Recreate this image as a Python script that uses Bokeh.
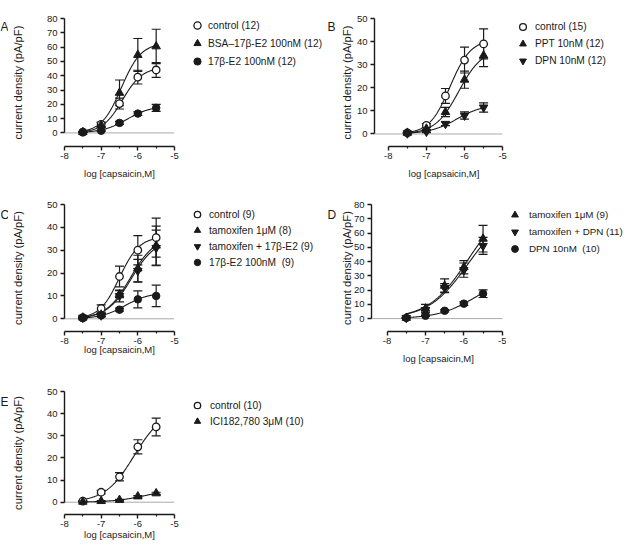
import numpy as np
from bokeh.plotting import figure
from bokeh.models import Range1d, FixedTicker, Legend, LegendItem, Spacer
from bokeh.core.properties import value
from bokeh.layouts import column, row
from bokeh.embed import file_html
from bokeh.resources import INLINE

FONT = "Liberation Sans"
INK = "#1a1a1a"

# ---------------- data ----------------
LOG_CAP = [-7.5, -7.0, -6.5, -6.0, -5.5]
X_TICKS = [-8, -7, -6, -5]
X_TICK_LABELS = ["-8", "-7", "-6", "-5"]
X_MINOR = [-7.5, -6.5, -5.5]
X_TITLE = "log [capsaicin,M]"
Y_TITLE = "current density (pA/pF)"

# Panel A
A_Y_TICKS = [0, 10, 20, 30, 40, 50, 60, 70, 80]
A_labels = ["control (12)", "BSA\u201317\u03b2-E2 100nM (12)", "17\u03b2-E2 100nM (12)"]
A_control_mean = [0.5, 6.0, 20.5, 39.0, 44.0]
A_control_sem = [0.3, 1.6, 3.8, 4.8, 5.2]
A_bsa_mean = [0.5, 5.5, 28.0, 54.5, 60.5]
A_bsa_sem = [0.3, 1.5, 9.0, 11.5, 12.0]
A_e2_mean = [0.5, 1.5, 7.0, 13.5, 17.5]
A_e2_sem = [0.2, 0.5, 1.0, 1.2, 2.5]
A_fit_top = [46.0, 63.0, 19.0]
A_fit_logec50 = [-6.42, -6.45, -6.30]
A_fit_hill = [1.6, 1.6, 1.3]

# Panel B
B_Y_TICKS = [0, 10, 20, 30, 40, 50]
B_labels = ["control (15)", "PPT 10nM (12)", "DPN 10nM (12)"]
B_control_mean = [0.5, 3.7, 16.5, 32.0, 39.0]
B_control_sem = [0.3, 0.8, 3.2, 5.6, 6.5]
B_ppt_mean = [0.5, 2.3, 9.5, 23.5, 34.0]
B_ppt_sem = [0.2, 0.6, 2.0, 3.7, 4.8]
B_dpn_mean = [0.3, 1.0, 4.4, 8.0, 11.5]
B_dpn_sem = [0.2, 0.4, 0.8, 1.6, 2.0]
B_fit_top = [41.0, 37.0, 13.0]
B_fit_logec50 = [-6.38, -6.15, -6.20]
B_fit_hill = [1.6, 1.4, 1.2]

# Panel C
C_Y_TICKS = [0, 10, 20, 30, 40, 50]
C_labels = ["control (9)", "tamoxifen 1\u03bcM (8)", "tamoxifen + 17\u03b2-E2 (9)", "17\u03b2-E2 100nM  (9)"]
C_control_mean = [0.5, 4.5, 18.5, 30.0, 35.5]
C_control_sem = [0.3, 1.6, 4.5, 6.4, 8.5]
C_tam_mean = [0.5, 1.8, 10.8, 22.0, 32.0]
C_tam_sem = [0.2, 0.6, 1.5, 5.8, 8.5]
C_tame2_mean = [0.5, 1.5, 10.0, 21.0, 31.0]
C_tame2_sem = [0.2, 0.5, 2.6, 5.0, 7.8]
C_e2_mean = [0.3, 1.5, 4.0, 8.5, 10.0]
C_e2_sem = [0.2, 0.4, 0.7, 3.7, 4.7]
C_fit_top = [36.0, 36.0, 35.0, 11.5]
C_fit_logec50 = [-6.50, -6.20, -6.18, -6.35]
C_fit_hill = [1.6, 1.3, 1.3, 1.3]

# Panel D
D_Y_TICKS = [0, 10, 20, 30, 40, 50, 60, 70, 80]
D_labels = ["tamoxifen 1\u03bcM (9)", "tamoxifen + DPN (11)", "DPN 10nM  (10)"]
D_tam_mean = [0.5, 7.0, 23.0, 36.0, 56.0]
D_tam_sem = [0.3, 3.0, 4.8, 4.6, 9.3]
D_tamdpn_mean = [0.5, 6.0, 21.5, 34.0, 51.0]
D_tamdpn_sem = [0.3, 1.5, 3.0, 5.0, 6.0]
D_dpn_mean = [0.5, 2.0, 5.5, 10.5, 17.5]
D_dpn_sem = [0.2, 0.5, 0.8, 1.2, 2.7]
D_fit_top = [82.0, 76.0, 30.0]
D_fit_logec50 = [-5.90, -5.90, -5.70]
D_fit_hill = [0.85, 0.85, 0.9]

# Panel E
E_Y_TICKS = [0, 10, 20, 30, 40, 50]
E_labels = ["control (10)", "ICI182,780 3\u03bcM (10)"]
E_control_mean = [0.5, 4.5, 11.5, 25.0, 34.0]
E_control_sem = [0.2, 0.8, 1.9, 3.2, 4.0]
E_ici_mean = [0.2, 0.5, 1.0, 2.6, 4.0]
E_ici_sem = [0.1, 0.2, 0.3, 0.4, 0.5]
E_fit_top = [42.0, 6.0]
E_fit_logec50 = [-6.10, -5.80]
E_fit_hill = [1.1, 1.0]

# ---------------- styling ----------------
MARKERS = {
    "open": dict(marker="circle", size=7.5, fill_color="white", line_color=INK, line_width=1.3),
    "dot": dict(marker="circle", size=7.5, fill_color=INK, line_color=INK, line_width=1),
    "tri": dict(marker="triangle", size=8.5, fill_color=INK, line_color=INK, line_width=1),
    "itri": dict(marker="inverted_triangle", size=8.5, fill_color=INK, line_color=INK, line_width=1),
}


def hill(top, logec50, n, xs):
    return top / (1.0 + 10.0 ** ((logec50 - xs) * n))


def blank_fig(w, h):
    f = figure(width=w, height=h, x_range=Range1d(0, w), y_range=Range1d(0, h),
               min_border_left=0, min_border_right=0, min_border_top=0, min_border_bottom=0,
               x_axis_location=None, y_axis_location=None, output_backend="svg",
               toolbar_location=None, tools="")
    f.outline_line_color = None
    f.xgrid.visible = False
    f.ygrid.visible = False
    f.background_fill_color = "white"
    f.border_fill_color = "white"
    return f


def letter_fig(letter, ox, oy, w, h, lx, ly):
    f = blank_fig(w, h)
    f.text(x=[lx - ox], y=[h - (ly - oy)], text=[letter], text_baseline="top",
           text_align="left", text_font=value(FONT), text_font_size="12px", text_color=INK)
    return f


def legend_box(series, ox, oy, w, h, leg):
    """Legend whose top-left corner sits at (ox, oy + spacer)."""
    row1_y, rh, standoff, fsize = leg
    gh = int(round(rh))
    top_off = int(round(row1_y - gh / 2.0 - oy))
    f = blank_fig(w, h - top_off)
    items = []
    for s in series:
        # one point of the series, outside this legend panel's view: gives the legend its glyph
        r = f.scatter(x=[s["x0"]], y=[s["mean"][0]], **MARKERS[s["kind"]])
        items.append(LegendItem(label=s["label"], renderers=[r]))
    legend = Legend(items=items, location="top_left", glyph_width=gh, glyph_height=gh,
                    label_height=gh, spacing=0, padding=0, margin=0, label_standoff=standoff,
                    border_line_color=None, background_fill_alpha=0,
                    label_text_font=FONT, label_text_font_size=fsize,
                    label_text_color=INK, label_text_baseline="middle")
    f.add_layout(legend)
    return column(Spacer(width=w, height=top_off), f)


def plot_fig(box, anch, frame_right, y_ticks, series, ylab_off, xlab_off):
    ox, oy, w, h = box
    yax, xm8, xm5, yzero, ytop, xax = anch
    y_top_val = y_ticks[-1]
    left = int(round(yax - ox))
    top = int(round(ytop - oy))
    bottom = int(round(oy + h - xax))
    fw = int(round(frame_right - yax))
    right = w - left - fw
    fh = h - top - bottom
    kx = (xm5 - xm8) / 3.0
    x0 = -8 - (xm8 - yax) / kx
    x1 = x0 + fw / kx
    ky = (yzero - ytop) / y_top_val
    y0 = y_top_val - fh / ky

    p = figure(width=w, height=h, x_range=Range1d(x0, x1), y_range=Range1d(y0, y_top_val),
               min_border_left=left, min_border_right=right, min_border_top=top,
               min_border_bottom=bottom, output_backend="svg", toolbar_location=None,
               tools="")
    p.outline_line_color = None
    p.xgrid.visible = False
    p.ygrid.visible = False
    p.background_fill_color = "white"
    p.border_fill_color = "white"

    xa = p.xaxis[0]
    ya = p.yaxis[0]
    xa.bounds = (X_TICKS[0], X_TICKS[-1])
    xa.ticker = FixedTicker(ticks=X_TICKS, minor_ticks=X_MINOR)
    xa.major_label_overrides = {t: s for t, s in zip(X_TICKS, X_TICK_LABELS)}
    ya.bounds = (y_ticks[0], y_ticks[-1])
    ya.ticker = FixedTicker(ticks=y_ticks, minor_ticks=[])
    for ax in (xa, ya):
        ax.axis_line_width = 1.4
        ax.axis_line_color = INK
        ax.major_tick_line_width = 1.4
        ax.major_tick_line_color = INK
        ax.major_tick_out = 4
        ax.major_tick_in = 0
        ax.minor_tick_out = 2
        ax.minor_tick_in = 0
        ax.minor_tick_line_width = 1.2
        ax.minor_tick_line_color = INK
        ax.major_label_text_font = FONT
        ax.major_label_text_font_size = "9.5px"
        ax.major_label_text_color = INK
        ax.axis_label_text_font = FONT
        ax.axis_label_text_font_style = "normal"
        ax.axis_label_text_color = INK
    ya.minor_tick_line_color = None
    xa.major_label_standoff = 2
    ya.major_label_standoff = 3
    xa.axis_label = X_TITLE
    ya.axis_label = Y_TITLE
    xa.axis_label_text_font_size = "9.5px"
    ya.axis_label_text_font_size = "11.2px"
    xa.axis_label_standoff = xlab_off
    ya.axis_label_standoff = ylab_off

    # dotted zero line, from the y axis to the end of the x axis
    p.segment(x0=[x0], y0=[0], x1=[X_TICKS[-1]], y1=[0], line_color="#555555",
              line_width=1, line_dash="1 1")

    xs_fit = np.linspace(LOG_CAP[0], LOG_CAP[-1], 160)
    for s in series:
        mean = np.array(s["mean"])
        sem = np.array(s["sem"])
        p.line(xs_fit, hill(s["top"], s["ec50"], s["n"], xs_fit), line_color=INK, line_width=1.1)
        p.segment(x0=LOG_CAP, y0=mean - sem, x1=LOG_CAP, y1=mean + sem,
                  line_color=INK, line_width=1.2)
        for yy in (mean + sem, mean - sem):
            p.scatter(LOG_CAP, yy, marker="dash", size=9, line_color=INK, line_width=1.2)
    for s in series:
        p.scatter(LOG_CAP, s["mean"], **MARKERS[s["kind"]])
    return p


def ser(label, kind, mean, sem, top, ec50, n):
    return dict(label=label, kind=kind, mean=mean, sem=sem, top=top, ec50=ec50, n=n,
                x0=LOG_CAP[0])


A_series = [
    ser(A_labels[0], "open", A_control_mean, A_control_sem, A_fit_top[0], A_fit_logec50[0], A_fit_hill[0]),
    ser(A_labels[1], "tri", A_bsa_mean, A_bsa_sem, A_fit_top[1], A_fit_logec50[1], A_fit_hill[1]),
    ser(A_labels[2], "dot", A_e2_mean, A_e2_sem, A_fit_top[2], A_fit_logec50[2], A_fit_hill[2]),
]
B_series = [
    ser(B_labels[0], "open", B_control_mean, B_control_sem, B_fit_top[0], B_fit_logec50[0], B_fit_hill[0]),
    ser(B_labels[1], "tri", B_ppt_mean, B_ppt_sem, B_fit_top[1], B_fit_logec50[1], B_fit_hill[1]),
    ser(B_labels[2], "itri", B_dpn_mean, B_dpn_sem, B_fit_top[2], B_fit_logec50[2], B_fit_hill[2]),
]
C_series = [
    ser(C_labels[0], "open", C_control_mean, C_control_sem, C_fit_top[0], C_fit_logec50[0], C_fit_hill[0]),
    ser(C_labels[1], "tri", C_tam_mean, C_tam_sem, C_fit_top[1], C_fit_logec50[1], C_fit_hill[1]),
    ser(C_labels[2], "itri", C_tame2_mean, C_tame2_sem, C_fit_top[2], C_fit_logec50[2], C_fit_hill[2]),
    ser(C_labels[3], "dot", C_e2_mean, C_e2_sem, C_fit_top[3], C_fit_logec50[3], C_fit_hill[3]),
]
D_series = [
    ser(D_labels[0], "tri", D_tam_mean, D_tam_sem, D_fit_top[0], D_fit_logec50[0], D_fit_hill[0]),
    ser(D_labels[1], "itri", D_tamdpn_mean, D_tamdpn_sem, D_fit_top[1], D_fit_logec50[1], D_fit_hill[1]),
    ser(D_labels[2], "dot", D_dpn_mean, D_dpn_sem, D_fit_top[2], D_fit_logec50[2], D_fit_hill[2]),
]
E_series = [
    ser(E_labels[0], "open", E_control_mean, E_control_sem, E_fit_top[0], E_fit_logec50[0], E_fit_hill[0]),
    ser(E_labels[1], "tri", E_ici_mean, E_ici_sem, E_fit_top[1], E_fit_logec50[1], E_fit_hill[1]),
]

# ---------- row 1 (y 0..183) ----------
R1Y, R1H = 0, 183
row1 = row(
    letter_fig("A", 0, R1Y, 8, R1H, 0, 2),
    plot_fig((8, R1Y, 180, R1H), (60, 60, 174, 132.7, 18.3, 145.7), 174, A_Y_TICKS, A_series, 20, 6),
    legend_box(A_series, 188, R1Y, 137, R1H, (25, 18.3, 2, "10.2px")),
    letter_fig("B", 325, R1Y, 12, R1H, 327, 2),
    plot_fig((337, R1Y, 177, R1H), (371.7, 385.7, 501.7, 134.7, 18.3, 146.7), 513, B_Y_TICKS, B_series, 1, 6),
    legend_box(B_series, 514, R1Y, 110, R1H, (26, 17, 4, "10.2px")),
)

# ---------- row 2 (y 183..370) ----------
R2Y, R2H = 183, 187
row2 = row(
    letter_fig("C", 0, R2Y, 8, R2H, 0, 188),
    plot_fig((8, R2Y, 181, R2H), (60, 60, 174, 318.3, 204, 330.7), 174, C_Y_TICKS, C_series, 20, -3),
    legend_box(C_series, 189, R2Y, 136, R2H, (214.3, 16, 4, "10.2px")),
    letter_fig("D", 325, R2Y, 12, R2H, 327, 188),
    plot_fig((337, R2Y, 169, R2H), (370, 385.7, 501.7, 318.3, 203.3, 330.7), 505, D_Y_TICKS, D_series, -2, 6),
    legend_box(D_series, 506, R2Y, 118, R2H, (214.3, 16.7, 6, "9.8px")),
)

# ---------- row 3 (y 370..542) ----------
R3Y, R3H = 370, 172
row3 = row(
    letter_fig("E", 0, R3Y, 8, R3H, 0, 375),
    plot_fig((8, R3Y, 181, R3H), (60, 60, 174, 505.6, 391.3, 518), 174, E_Y_TICKS, E_series, 20, -1),
    legend_box(E_series, 189, R3Y, 435, R3H, (405, 16, 5, "10.2px")),
)

layout = column(row1, row2, row3)
open("out.html", "w").write(file_html(layout, INLINE))
